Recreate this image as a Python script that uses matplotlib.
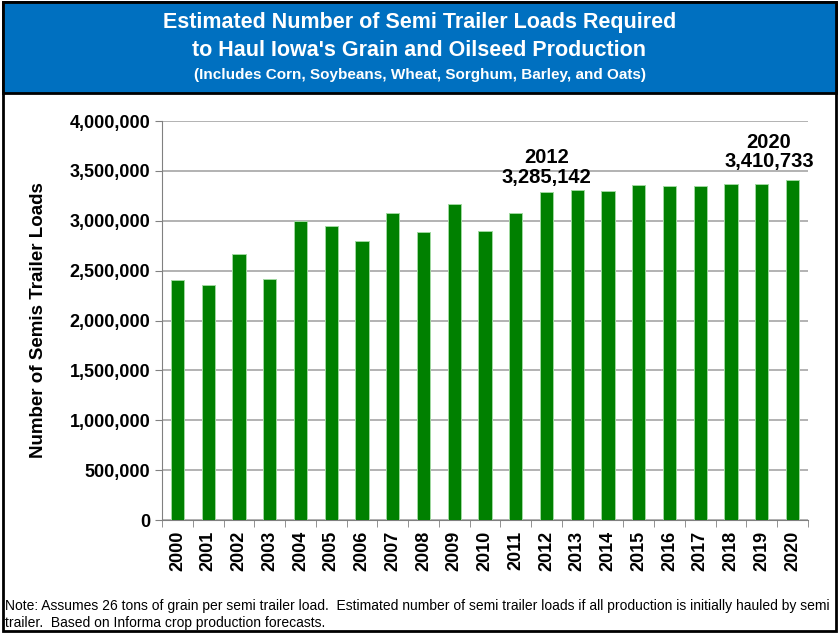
import matplotlib.pyplot as plt
from matplotlib.patches import Rectangle
from matplotlib.ticker import FuncFormatter
from matplotlib.font_manager import FontProperties

plt.rcParams['font.family'] = ['Liberation Sans', 'DejaVu Sans']

years = [str(y) for y in range(2000, 2021)]
loads = [2406000, 2356000, 2667000, 2416000, 3000000, 2947000, 2800000,
         3078000, 2884000, 3171000, 2894000, 3078000, 3285142, 3308000,
         3298000, 3358000, 3348000, 3348000, 3371000, 3371000, 3410733]
yticks = list(range(0, 4000001, 500000))

fig = plt.figure(figsize=(8.39, 6.33), dpi=100)

# outer frame and blue header
fig.patches.append(Rectangle((0.003, 0.003), 0.994, 0.994, transform=fig.transFigure,
                             fill=False, edgecolor='black', lw=2, zorder=0))
fig.patches.append(Rectangle((0.003, 0.853), 0.994, 0.144, transform=fig.transFigure,
                             facecolor='#0070C0', edgecolor='black', lw=2, zorder=1))
fig.text(0.5, 0.965, 'Estimated Number of Semi Trailer Loads Required',
         ha='center', va='center', color='white', fontsize=15.5, fontweight='bold')
fig.text(0.5, 0.921, "to Haul Iowa's Grain and Oilseed Production",
         ha='center', va='center', color='white', fontsize=15.5, fontweight='bold')
fig.text(0.5, 0.881, '(Includes Corn, Soybeans, Wheat, Sorghum, Barley, and Oats)',
         ha='center', va='center', color='white', fontsize=11, fontweight='bold')

ax = fig.add_axes([0.1931, 0.1785, 0.7699, 0.6303])
x = range(len(years))
ax.bar(x, loads, width=0.43, color='#008000', edgecolor='#9fd89f', linewidth=0.7, zorder=3)
ax.set_xlim(-0.5, len(years) - 0.5)
ax.set_ylim(0, 4000000)
ax.set_yticks(yticks)
ax.yaxis.set_major_formatter(FuncFormatter(lambda v, p: f'{int(v):,}'))
ax.yaxis.grid(True, color='#a6a6a6', lw=1.2, zorder=0)
ax.set_xticks(list(x))
ax.set_xticklabels(years, rotation=90, fontsize=13, fontweight='bold')
ax.set_xticks([i - 0.5 for i in range(len(years) + 1)], minor=True)
ax.tick_params(axis='x', which='major', length=0, pad=8)
ax.tick_params(axis='x', which='minor', length=5, color='#808080')
ax.tick_params(axis='y', length=5, color='#808080', labelsize=13)
for lab in ax.get_yticklabels():
    lab.set_fontweight('bold')
for s in ['top', 'right']:
    ax.spines[s].set_visible(False)
for s in ['left', 'bottom']:
    ax.spines[s].set_color('#808080')
ax.set_ylabel('Number of Semis Trailer Loads', fontsize=13.5, fontweight='bold', labelpad=16)

bold = FontProperties(family='Liberation Sans', weight='bold', size=14.5)
ax.annotate(f'{years[12]}\n{loads[12]:,}', xy=(12, loads[12]), xytext=(0, 4),
            textcoords='offset points', ha='center', va='bottom',
            fontproperties=bold, linespacing=1.05)
ax.annotate(f'{years[20]}\n{loads[20]:,}', xy=(20, loads[20]), xytext=(-17, 6),
            textcoords='offset points', ha='center', va='bottom',
            fontproperties=bold, linespacing=1.05)

fig.text(0.006, 0.043, 'Note: Assumes 26 tons of grain per semi trailer load.  Estimated number of '
         'semi trailer loads if all production is initially hauled by semi', fontsize=10,
         ha='left', va='center')
fig.text(0.006, 0.016, 'trailer.  Based on Informa crop production forecasts.', fontsize=10,
         ha='left', va='center')

fig.savefig('out.png', dpi=100)
